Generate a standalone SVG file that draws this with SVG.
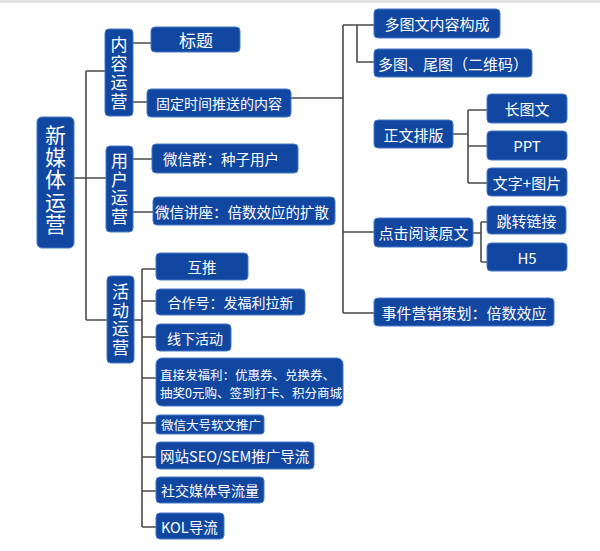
<svg xmlns="http://www.w3.org/2000/svg" width="600" height="551" viewBox="0 0 600 551">
<style>
.b{fill:#1147a0;stroke:#4479c8;stroke-width:1}
.t{fill:#fff;font-family:"Noto Sans CJK SC","Liberation Sans",sans-serif;dominant-baseline:central}
.c{text-anchor:middle}
.v{writing-mode:vertical-rl;text-anchor:middle}
.l{fill:none;stroke:#4a4a4a;stroke-width:1.6}
</style>
<rect x="0" y="0" width="600" height="551" fill="#fff"/>
<rect x="0" y="0" width="600" height="3" fill="#e2e2e2"/>
<g id="connectors">
<path class="l" d="M74,178H106M86,71V320M86,71H105M86,320H107"/>
<path class="l" d="M133,43H151M133,102H147"/>
<path class="l" d="M133,159H152M133,212H153"/>
<path class="l" d="M291,98H343M343,25V313M343,25H374M357,25V62H374M343,232H374M343,313H374"/>
<path class="l" d="M453,134H468M468,110V183M468,110H487M468,146H487M468,183H487"/>
<path class="l" d="M473,233H481M481,222V262M481,222H487M481,262H487"/>
<path class="l" d="M134,320H142M142,269V527M142,269H156M142,301H156M142,337H156M142,378H156M142,423H156M142,457H156M142,491H156M142,527H156"/>
</g>
<g id="root"><rect class="b" x="37" y="117" width="37" height="131" rx="5"/>
<text class="t v" font-size="21" letter-spacing="1.2" x="55.5" y="180">新媒体运营</text></g>
<g id="neirong"><rect class="b" x="105" y="29" width="28" height="87" rx="4"/>
<text class="t v" font-size="17" letter-spacing="2" x="119" y="74">内容运营</text></g>
<g id="yonghu"><rect class="b" x="106" y="146" width="27" height="86" rx="4"/>
<text class="t v" font-size="17" letter-spacing="1.5" x="119.5" y="189.5">用户运营</text></g>
<g id="huodong"><rect class="b" x="107" y="276" width="27" height="87" rx="4"/>
<text class="t v" font-size="17" letter-spacing="1.5" x="120.5" y="320.5">活动运营</text></g>
<g id="biaoti"><rect class="b" x="151" y="27" width="89" height="25" rx="4"/><text class="t c" font-size="17" x="196" y="39.5">标题</text></g>
<g id="guding"><rect class="b" x="147" y="89" width="144" height="28" rx="4"/><text class="t c" font-size="14" x="219" y="103">固定时间推送的内容</text></g>
<g id="weixinqun"><rect class="b" x="152" y="144" width="146" height="29" rx="4"/><text class="t" font-size="14.5" x="163" y="158.5">微信群：种子用户</text></g>
<g id="jiangzuo"><rect class="b" x="153" y="197" width="182" height="28" rx="4"/><text class="t" font-size="14.5" x="155" y="211">微信讲座：倍数效应的扩散</text></g>
<g id="duotuwen"><rect class="b" x="374" y="9" width="126" height="29" rx="4"/><text class="t c" font-size="15" x="437" y="23.5">多图文内容构成</text></g>
<g id="weitu"><rect class="b" x="374" y="49" width="158" height="28" rx="4"/><text class="t c" font-size="15" x="453" y="63">多图、尾图（二维码）</text></g>
<g id="zhengwen"><rect class="b" x="374" y="120" width="79" height="28" rx="4"/><text class="t c" font-size="15" x="413.5" y="134">正文排版</text></g>
<g id="changtuwen"><rect class="b" x="487" y="94" width="80" height="29" rx="4"/><text class="t c" font-size="15" x="527" y="108.5">长图文</text></g>
<g id="ppt"><rect class="b" x="487" y="131" width="80" height="29" rx="4"/><text class="t c" font-size="15" x="527" y="145.5">PPT</text></g>
<g id="wenzi"><rect class="b" x="487" y="168" width="80" height="28" rx="4"/><text class="t c" font-size="15" x="527" y="182">文字+图片</text></g>
<g id="dianji"><rect class="b" x="374" y="218" width="99" height="29" rx="4"/><text class="t c" font-size="15" x="423.5" y="232.5">点击阅读原文</text></g>
<g id="tiaozhuan"><rect class="b" x="487" y="206" width="79" height="28" rx="4"/><text class="t c" font-size="15" x="526.5" y="220">跳转链接</text></g>
<g id="h5"><rect class="b" x="487" y="243" width="80" height="28" rx="4"/><text class="t c" font-size="15" x="527" y="257">H5</text></g>
<g id="shijian"><rect class="b" x="374" y="298" width="180" height="28" rx="4"/><text class="t c" font-size="15" x="464" y="312">事件营销策划：倍数效应</text></g>
<g id="hutui"><rect class="b" x="156" y="253" width="92" height="27" rx="4"/><text class="t c" font-size="14.5" x="202" y="266.5">互推</text></g>
<g id="hezuo"><rect class="b" x="156" y="289" width="149" height="26" rx="4"/><text class="t c" font-size="14" x="230.5" y="302">合作号：发福利拉新</text></g>
<g id="xianxia"><rect class="b" x="156" y="324" width="75" height="27" rx="4"/><text class="t c" font-size="14" x="195" y="337.5">线下活动</text></g>
<g id="fuli"><rect class="b" x="156" y="358" width="187" height="48" rx="6"/><text class="t" font-size="12.5"><tspan x="160" y="374">直接发福利：优惠券、兑换券、</tspan><tspan x="160" y="392">抽奖0元购、签到打卡、积分商城</tspan></text></g>
<g id="dahao"><rect class="b" x="156" y="415" width="108" height="19" rx="3"/><text class="t" font-size="12.5" x="161" y="424.5">微信大号软文推广</text></g>
<g id="seo"><rect class="b" x="156" y="442" width="158" height="27" rx="4"/><text class="t" font-size="14.5" x="160" y="455.5">网站SEO/SEM推广导流</text></g>
<g id="shejiao"><rect class="b" x="156" y="477" width="108" height="26" rx="4"/><text class="t" font-size="14" x="161" y="490">社交媒体导流量</text></g>
<g id="kol"><rect class="b" x="156" y="513" width="68" height="26" rx="4"/><text class="t" font-size="14.5" x="161" y="526">KOL导流</text></g>
</svg>
